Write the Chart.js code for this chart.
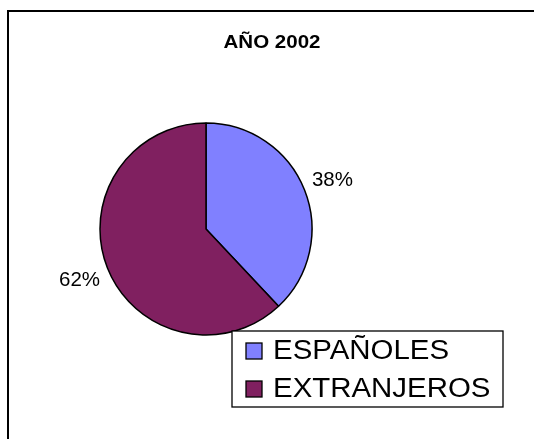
<!DOCTYPE html>
<html>
<head>
<meta charset="utf-8">
<script src="https://cdn.jsdelivr.net/npm/chart.js@4.4.1/dist/chart.umd.min.js"></script>
<style>
  html, body { margin: 0; padding: 0; background: #fff; }
  #wrap { width: 534px; height: 439px; }
</style>
</head>
<body>
<div id="wrap"><canvas id="pieChart" width="534" height="439"></canvas></div>
<script>
const chartTitle = 'AÑO 2002';
const categories = ['ESPAÑOLES', 'EXTRANJEROS'];
const shares = [38, 62];
const sliceColors = ['#8080FF', '#802060'];

const fontFamily = '"Liberation Sans", Arial, sans-serif';

// text drawn a little wider, like the old GDI rendering
function wideText(ctx, txt, x, y, sx) {
    ctx.save();
    ctx.translate(x, y);
    ctx.scale(sx, 1);
    ctx.fillText(txt, 0, 0);
    ctx.restore();
}

// white background + the black frame (only top/left edges fall inside the picture)
const framePlugin = {
    id: 'frame',
    beforeDraw(chart) {
        const ctx = chart.ctx;
        ctx.save();
        ctx.fillStyle = '#fff';
        ctx.fillRect(0, 0, chart.width, chart.height);
        ctx.strokeStyle = '#000';
        ctx.lineWidth = 2;
        ctx.beginPath();
        ctx.moveTo(8, chart.height);
        ctx.lineTo(8, 11);
        ctx.lineTo(chart.width, 11);
        ctx.stroke();
        ctx.fillStyle = '#000';
        ctx.font = 'bold 19px ' + fontFamily;
        ctx.textAlign = 'center';
        ctx.textBaseline = 'alphabetic';
        wideText(ctx, chartTitle, 272, 47.5, 1.08);
        ctx.restore();
    }
};

// percentage labels outside each slice
const outsideLabels = {
    id: 'outsideLabels',
    afterDatasetsDraw(chart) {
        const ctx = chart.ctx;
        const meta = chart.getDatasetMeta(0);
        const values = chart.data.datasets[0].data;
        const total = values.reduce((a, b) => a + b, 0);
        ctx.save();
        ctx.fillStyle = '#000';
        ctx.font = '20.5px ' + fontFamily;
        ctx.textAlign = 'center';
        ctx.textBaseline = 'middle';
        meta.data.forEach((arc, i) => {
            const p = arc.getProps(['x', 'y', 'startAngle', 'endAngle', 'outerRadius'], true);
            const mid = (p.startAngle + p.endAngle) / 2;
            const r = p.outerRadius + 30;
            const pct = Math.round(values[i] / total * 100) + '%';
            ctx.fillText(pct, p.x + Math.cos(mid) * r, p.y + Math.sin(mid) * r + 1);
        });
        ctx.restore();
    }
};

// boxed legend at the lower right, drawn over the pie
const boxLegend = {
    id: 'boxLegend',
    afterDraw(chart) {
        const ctx = chart.ctx;
        const ds = chart.data.datasets[0];
        ctx.save();
        ctx.fillStyle = '#fff';
        ctx.fillRect(232, 331, 271, 76);
        ctx.strokeStyle = '#000';
        ctx.lineWidth = 1.3;
        ctx.strokeRect(232, 331, 271, 76);
        ctx.font = '27px ' + fontFamily;
        ctx.textBaseline = 'middle';
        ctx.textAlign = 'left';
        chart.data.labels.forEach((lab, i) => {
            const y = 343 + i * 38;
            ctx.fillStyle = ds.backgroundColor[i];
            ctx.fillRect(246, y, 16, 16);
            ctx.lineWidth = 1.3;
            ctx.strokeRect(246, y, 16, 16);
            ctx.fillStyle = '#000';
            wideText(ctx, lab, 273, y + 9, 1.09);
        });
        ctx.restore();
    }
};

new Chart(document.getElementById('pieChart'), {
    type: 'pie',
    data: {
        labels: categories,
        datasets: [{
            data: shares,
            backgroundColor: sliceColors,
            borderColor: '#000',
            borderWidth: 1.5
        }]
    },
    options: {
        responsive: false,
        animation: false,
        radius: 106,
        layout: { padding: { left: 100, right: 222, top: 123, bottom: 104 } },
        plugins: {
            legend: { display: false },
            title: { display: false },
            tooltip: { enabled: false }
        }
    },
    plugins: [framePlugin, outsideLabels, boxLegend]
});
</script>
</body>
</html>
